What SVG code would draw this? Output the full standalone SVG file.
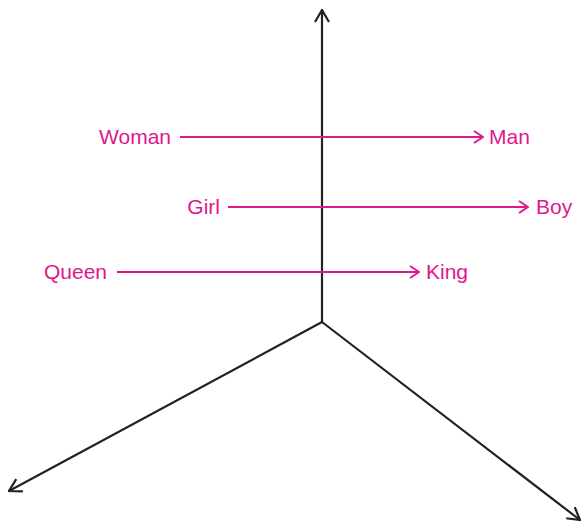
<svg xmlns="http://www.w3.org/2000/svg" width="581" height="522" viewBox="0 0 581 522">
  <defs>
    <marker id="headBlack" viewBox="0 0 14 16" refX="13" refY="8" markerWidth="14" markerHeight="16" markerUnits="userSpaceOnUse" orient="auto">
      <path d="M1,1 L13,8 L1,15" fill="none" stroke="#222" stroke-width="2.2"/>
    </marker>
    <marker id="headPink" viewBox="0 0 11 14" refX="10" refY="7" markerWidth="11" markerHeight="14" markerUnits="userSpaceOnUse" orient="auto">
      <path d="M1,1 L10,7 L1,13" fill="none" stroke="#e0168e" stroke-width="2"/>
    </marker>
  </defs>
  <style>
    .axis { stroke: #222; stroke-width: 2.2; fill: none; marker-end: url(#headBlack); }
    .vec { stroke: #e0168e; stroke-width: 2; fill: none; marker-end: url(#headPink); }
    .lbl { font-family: "Liberation Sans", Arial, sans-serif; font-size: 21px; fill: #e0168e; }
  </style>
  <g id="connectors">
    <line class="axis" x1="322" y1="322" x2="322" y2="10"/>
    <line class="axis" x1="322" y1="322" x2="9" y2="491"/>
    <line class="axis" x1="322" y1="322" x2="580" y2="520"/>
    <line class="vec" x1="180" y1="137" x2="483" y2="137"/>
    <line class="vec" x1="228" y1="207" x2="528" y2="207"/>
    <line class="vec" x1="117" y1="272" x2="419" y2="272"/>
  </g>
  <g id="woman"><text class="lbl" x="171" y="144" text-anchor="end">Woman</text></g>
  <g id="man"><text class="lbl" x="489" y="144">Man</text></g>
  <g id="girl"><text class="lbl" x="220" y="214" text-anchor="end">Girl</text></g>
  <g id="boy"><text class="lbl" x="536" y="214">Boy</text></g>
  <g id="queen"><text class="lbl" x="107" y="279" text-anchor="end">Queen</text></g>
  <g id="king"><text class="lbl" x="426" y="279">King</text></g>
</svg>
